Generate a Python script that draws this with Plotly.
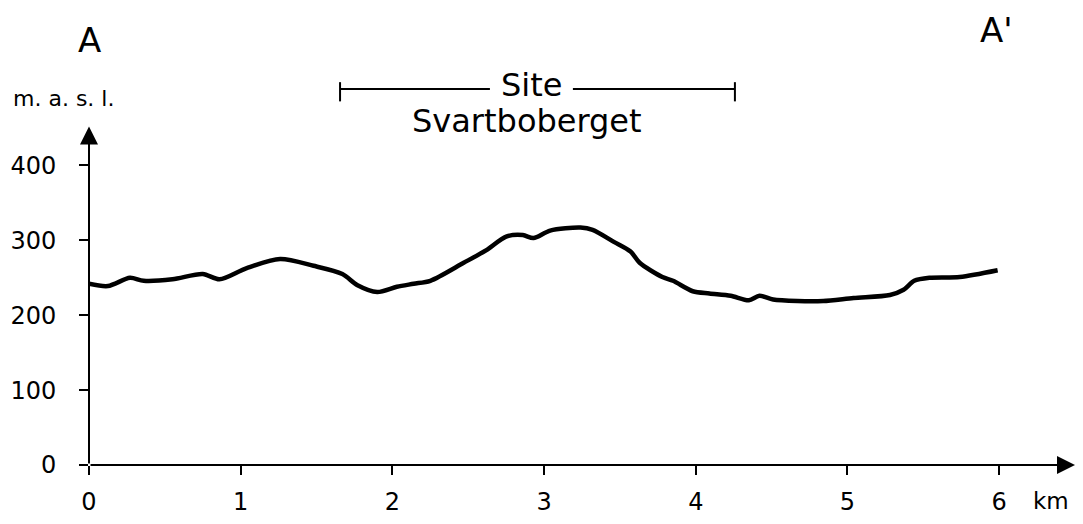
import plotly.graph_objects as go

# Profile A - A' (distance in km, elevation in m.a.s.l.)
dist_km = [0.0, 0.125, 0.27, 0.36, 0.55, 0.75, 0.86, 1.04, 1.26, 1.48, 1.67, 1.77, 1.90,
           2.03, 2.14, 2.25, 2.47, 2.62, 2.75, 2.86, 2.93, 3.04, 3.24, 3.32, 3.46, 3.57,
           3.63, 3.78, 3.85, 3.98, 4.09, 4.23, 4.35, 4.42, 4.51, 4.67, 4.84, 5.04, 5.28,
           5.37, 5.44, 5.54, 5.74, 5.99]
elev_m = [242, 239, 250, 246, 248, 255, 248, 263, 275, 266, 255, 240, 231,
          238, 242, 246, 270, 287, 305, 307, 303, 313, 317, 314, 298, 285,
          270, 251, 246, 232, 229, 226, 220, 226, 221, 219, 219, 223, 227,
          234, 246, 250, 251, 260]

x_ticks = [0, 1, 2, 3, 4, 5, 6]
y_ticks = [0, 100, 200, 300, 400]
site_start_km = 1.655
site_end_km = 4.258

FONT = "DejaVu Sans"

fig = go.Figure()
fig.add_trace(go.Scatter(
    x=dist_km, y=elev_m, mode="lines",
    line=dict(color="black", width=4.5, shape="spline", smoothing=0.8),
    showlegend=False, hoverinfo="skip"))

fig.update_layout(
    width=1067, height=508,
    margin=dict(l=81, r=0, t=120, b=51, autoexpand=False),
    paper_bgcolor="white", plot_bgcolor="white",
    font=dict(family=FONT, color="black", size=24),
    xaxis=dict(range=[0, 6.5], tickvals=x_ticks, ticktext=[str(v) for v in x_ticks],
               ticks="outside", ticklen=9, tickwidth=2, tickcolor="black",
               showgrid=False, zeroline=False, showline=False,
               ticklabelstandoff=6, tickfont=dict(size=24)),
    yaxis=dict(range=[0, 450], tickvals=y_ticks, ticktext=[str(v) for v in y_ticks],
               ticks="outside", ticklen=9, tickwidth=2, tickcolor="black",
               showgrid=False, zeroline=False, showline=False,
               ticklabelstandoff=18, tickfont=dict(size=24)),
)

# Axis lines with arrowheads
fig.add_annotation(x=6.5, y=0, ax=0, ay=0, xref="x", yref="y", axref="x", ayref="y",
                   text="", showarrow=True, arrowhead=2, arrowsize=1.8, arrowwidth=2,
                   arrowcolor="black", standoff=0, startstandoff=0)
fig.add_annotation(x=0, y=452, ax=0, ay=0, xref="x", yref="y", axref="x", ayref="y",
                   text="", showarrow=True, arrowhead=2, arrowsize=1.8, arrowwidth=2,
                   arrowcolor="black", standoff=0, startstandoff=0)

# Site bracket
gap_left = 2.643
gap_right = 3.19
line_y = 1.1157
for x0, x1 in [(site_start_km, gap_left), (gap_right, site_end_km)]:
    fig.add_shape(type="line", xref="x", yref="paper", x0=x0, x1=x1, y0=line_y, y1=line_y,
                  line=dict(color="black", width=2))
for xe in [site_start_km, site_end_km]:
    fig.add_shape(type="line", xref="x", yref="paper", x0=xe, x1=xe, y0=1.079, y1=1.136,
                  line=dict(color="black", width=2))

fig.add_annotation(x=(gap_left + gap_right) / 2, y=line_y + 0.012, xref="x", yref="paper",
                   text="Site", showarrow=False, font=dict(size=32), yanchor="middle")
fig.add_annotation(x=2.89, y=1.021, xref="x", yref="paper",
                   text="Svartboberget", showarrow=False, font=dict(size=32), yanchor="middle")

# Labels
fig.add_annotation(x=0, y=1.262, xref="x", yref="paper", text="A", showarrow=False,
                   font=dict(size=34), yanchor="middle")
fig.add_annotation(x=5.98, y=1.29, xref="x", yref="paper", text="A'", showarrow=False,
                   font=dict(size=34), yanchor="middle")
fig.add_annotation(x=-0.079, y=1.089, xref="paper", yref="paper", text="m. a. s. l.",
                   showarrow=False, font=dict(size=22), xanchor="left", yanchor="middle")
fig.add_annotation(x=6.21, y=0, xref="x", yref="y", yshift=-36, text="km", showarrow=False,
                   font=dict(size=23), xanchor="left", yanchor="middle")

fig.write_html("out.html")
